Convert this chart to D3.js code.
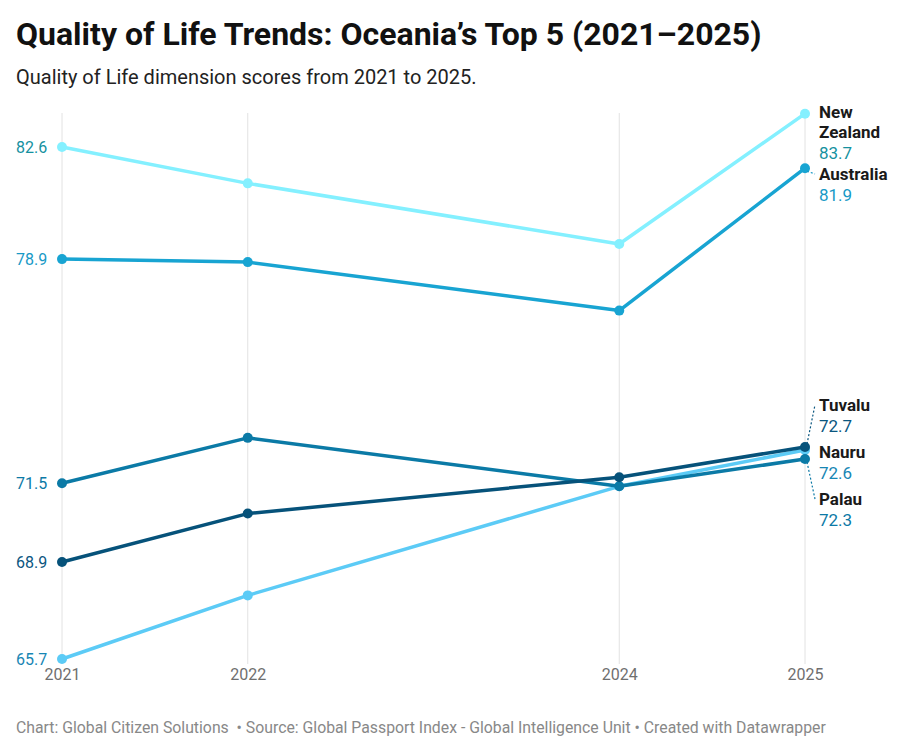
<!DOCTYPE html>
<html>
<head>
<meta charset="utf-8">
<script src="https://cdn.jsdelivr.net/npm/d3@7"></script>
<style>
  body { margin: 0; background: #fff; font-family: Roboto, "Noto Sans", sans-serif; }
  svg text { font-family: Roboto, "Noto Sans", sans-serif; }
</style>
</head>
<body>
<svg id="chart" width="904" height="754"></svg>
<script>
const years = [2021, 2022, 2024, 2025];
const countries = ['New Zealand', 'Australia', 'Nauru', 'Palau', 'Tuvalu'];
const newZealand = [82.6, 81.4, 79.4, 83.7];
const australia = [78.9, 78.8, 77.2, 81.9];
const nauru = [65.7, 67.8, 71.4, 72.6];
const palau = [71.5, 73.0, 71.4, 72.3];
const tuvalu = [68.9, 70.5, 71.7, 72.7];
const yTickValues = [82.6, 78.9, 71.5, 68.9, 65.7];

const seriesValues = [newZealand, australia, nauru, palau, tuvalu];
const lineColors = ['#84f0ff', '#18a4d2', '#5ccbf6', '#0b7aa6', '#06527a'];
const textColors = ['#15919f', '#1799c6', '#1786b4', '#0c79a6', '#0a567f'];
const tickColors = { 82.6: '#15919f', 78.9: '#1799c6', 71.5: '#0c79a6', 68.9: '#0a567f', 65.7: '#1786b4' };

// label layout at the right edge (baseline of first line)
const labelBase = { 'New Zealand': 118, 'Australia': 180, 'Tuvalu': 411, 'Nauru': 458, 'Palau': 505 };

const svg = d3.select('#chart');

svg.append('text').attr('x', 16).attr('y', 45)
  .attr('font-size', 32).attr('font-weight', 700).attr('fill', '#111')
  .text('Quality of Life Trends: Oceania\u2019s Top 5 (2021\u20132025)');
svg.append('text').attr('x', 16).attr('y', 84)
  .attr('font-size', 20).attr('fill', '#222')
  .text('Quality of Life dimension scores from 2021 to 2025.');
svg.append('text').attr('x', 16).attr('y', 733)
  .attr('font-size', 15.8).attr('fill', '#888')
  .text('Chart: Global Citizen Solutions \u00a0\u2022 Source: Global Passport Index - Global Intelligence Unit \u2022 Created with Datawrapper');

const x = d3.scaleLinear().domain([2021, 2025]).range([62, 805]);
const y = d3.scaleLinear().domain([65.7, 82.6]).range([659, 147]);

// vertical grid lines
svg.append('g').selectAll('line').data(years).enter().append('line')
  .attr('x1', d => x(d)).attr('x2', d => x(d))
  .attr('y1', 113).attr('y2', 664)
  .attr('stroke', '#e2e2e2').attr('stroke-width', 1);

// x axis labels
const xAxis = d3.axisBottom(x).tickValues(years).tickFormat(d3.format('d')).tickSize(0).tickPadding(0);
const xg = svg.append('g').attr('transform', 'translate(0,669)').call(xAxis);
xg.select('.domain').remove();
xg.selectAll('text').attr('font-size', 16).attr('fill', '#6f6f6f').attr('dy', '0.71em');

// y axis labels
const yAxis = d3.axisLeft(y).tickValues(yTickValues).tickFormat(d3.format('.1f')).tickSize(0).tickPadding(0);
const yg = svg.append('g').attr('transform', 'translate(16,0)').call(yAxis);
yg.select('.domain').remove();
yg.selectAll('text').attr('text-anchor', 'start').attr('font-size', 16)
  .attr('fill', d => tickColors[d]).attr('dy', '0.35em');

const line = d3.line().x((d, i) => x(years[i])).y(d => y(d));

const series = countries.map((name, k) => ({ name, values: seriesValues[k], color: lineColors[k], text: textColors[k] }));

const sg = svg.append('g').selectAll('g').data(series).enter().append('g');
sg.append('path')
  .attr('d', d => line(d.values))
  .attr('fill', 'none').attr('stroke', d => d.color)
  .attr('stroke-width', 3.5).attr('stroke-linejoin', 'round');
sg.selectAll('circle').data(d => d.values.map((v, i) => ({ v, i, color: d.color }))).enter().append('circle')
  .attr('cx', d => x(years[d.i])).attr('cy', d => y(d.v))
  .attr('r', 5).attr('fill', d => d.color);

// right-hand labels
const lg = svg.append('g');
series.forEach(s => {
  const last = s.values[s.values.length - 1];
  const px = x(2025), py = y(last);
  const base = labelBase[s.name];
  const words = s.name === 'New Zealand' ? ['New', 'Zealand'] : [s.name];
  const t = lg.append('text').attr('x', 819).attr('font-size', 17);
  words.forEach((w, i) => {
    t.append('tspan').attr('x', 819).attr('y', base + i * 20)
      .attr('font-weight', 700).attr('fill', '#1a1a1a').text(w);
  });
  t.append('tspan').attr('x', 819).attr('y', base + words.length * 20 + 1)
    .attr('fill', s.text).text(d3.format('.1f')(last));
  // leader line
  const ly = base - 6;
  if (Math.abs(ly - py) > 4) {
    lg.append('line').attr('x1', px + 2).attr('y1', py + (ly > py ? 3 : -3))
      .attr('x2', 815).attr('y2', ly)
      .attr('stroke', s.text).attr('stroke-width', 1.2)
      .attr('stroke-dasharray', '2,2');
  }
});
</script>
</body>
</html>
